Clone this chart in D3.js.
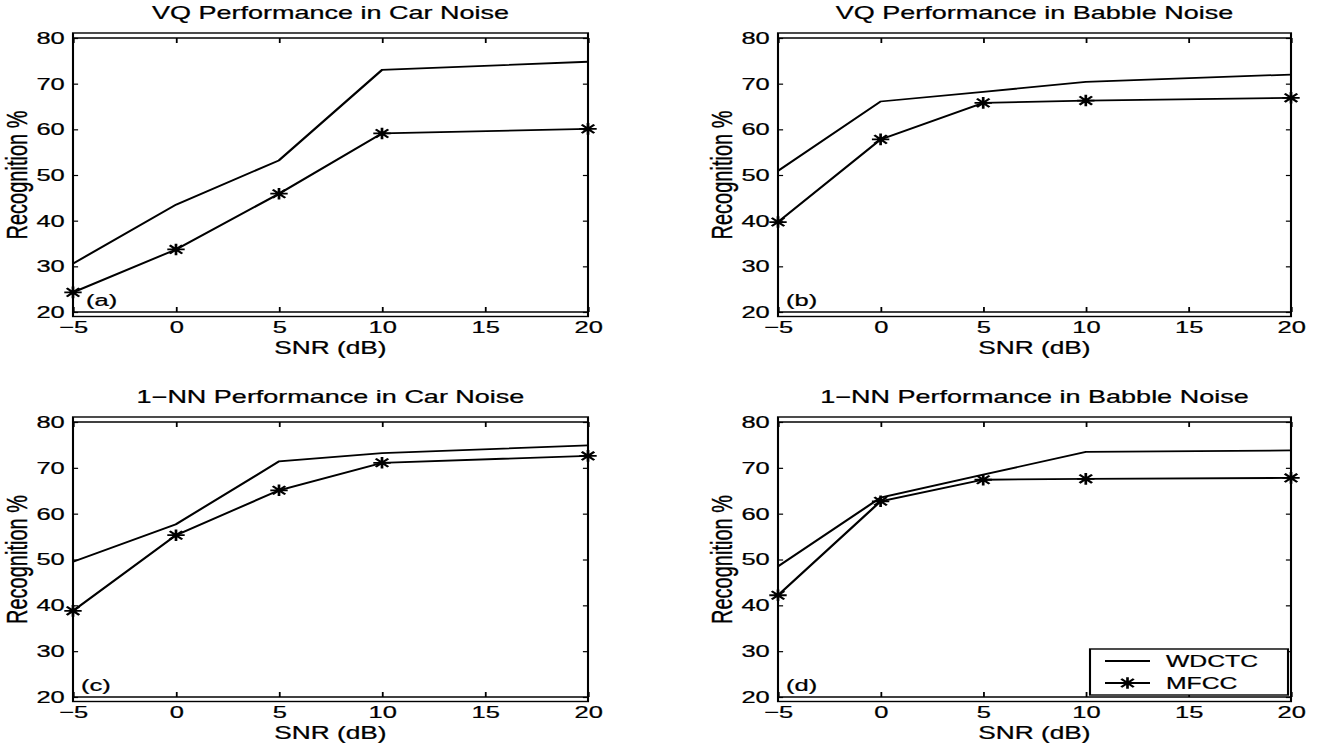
<html>
<head>
<meta charset="utf-8">
<title>VQ / 1-NN Performance</title>
<script src="https://d3js.org/d3.v7.min.js"></script>
<style>
  body { margin: 0; background: #fff; }
  text { font-family: "Liberation Sans", Arial, Helvetica, sans-serif; fill: #000; stroke: #000; stroke-width: 0.25px; }
  .frame { fill: none; stroke: #000; stroke-width: 1.4px; }
  .serie { fill: none; stroke: #000; stroke-width: 1.8px; }
  .star { fill: none; stroke: #000; stroke-width: 1.8px; }
  .tick line { stroke: #000; stroke-width: 1.2px; }
</style>
</head>
<body>
<script>
// data
var snr = [-5, 0, 5, 10, 20];
var xTicks = [-5, 0, 5, 10, 15, 20];
var yTicks = [20, 30, 40, 50, 60, 70, 80];

var vqCarWdctc    = [30.6, 43.5, 53.2, 73.0, 74.8];
var vqCarMfcc     = [24.3, 33.7, 45.9, 59.1, 60.1];
var vqBabbleWdctc = [50.9, 66.1, 68.2, 70.4, 72.0];
var vqBabbleMfcc  = [39.7, 57.8, 65.8, 66.3, 66.9];
var nnCarWdctc    = [49.5, 57.7, 71.4, 73.2, 74.9];
var nnCarMfcc     = [38.8, 55.3, 65.1, 71.1, 72.6];
var nnBabbleWdctc = [48.5, 63.5, 68.5, 73.5, 73.8];
var nnBabbleMfcc  = [42.2, 62.7, 67.4, 67.6, 67.8];

var titles = ["VQ Performance in Car Noise", "VQ Performance in Babble Noise",
              "1\u2212NN Performance in Car Noise", "1\u2212NN Performance in Babble Noise"];
var tags = ["(a)", "(b)", "(c)", "(d)"];
var seriesNames = ["WDCTC", "MFCC"];

// the original figure is stretched sideways, so everything is drawn in a
// narrower space and widened by SX
var SX = 1.5;
var colLeft = [73, 778], colRight = [588, 1291];
var rowTop = [38, 422], rowBottom = [312, 697];

var panels = [
  {wd: vqCarWdctc, mf: vqCarMfcc, col: 0, row: 0, tagDx: 13},
  {wd: vqBabbleWdctc, mf: vqBabbleMfcc, col: 1, row: 0, tagDx: 8},
  {wd: nnCarWdctc, mf: nnCarMfcc, col: 0, row: 1, tagDx: 8},
  {wd: nnBabbleWdctc, mf: nnBabbleMfcc, col: 1, row: 1, tagDx: 8, legend: true}
];

var svg = d3.select("body").append("svg").attr("width", 1320).attr("height", 744);
var root = svg.append("g").attr("transform", "scale(" + SX + ",1)");

function star(sel, r) {
  var d = r * 0.72;
  sel.append("path").attr("class", "star")
    .attr("d", "M" + (-r) + ",0H" + r + "M0," + (-r) + "V" + r +
               "M" + (-d) + "," + (-d) + "L" + d + "," + d +
               "M" + (-d) + "," + d + "L" + d + "," + (-d));
}

panels.forEach(function (p, i) {
  var x = d3.scaleLinear().domain([-5, 20]).range([colLeft[p.col] / SX, colRight[p.col] / SX]);
  var y = d3.scaleLinear().domain([20, 80]).range([rowBottom[p.row], rowTop[p.row]]);
  var g = root.append("g");
  var x0 = x(-5), x1 = x(20), y0 = y(20), y1 = y(80);

  // box, a little taller than the 20..80 range, plus lines at 20 and 80
  g.append("rect").attr("class", "frame")
    .attr("x", x0).attr("y", y1 - 5).attr("width", x1 - x0).attr("height", y0 - y1 + 9.5);
  g.append("line").attr("class", "frame").attr("x1", x0).attr("x2", x1).attr("y1", y1).attr("y2", y1);
  g.append("line").attr("class", "frame").attr("x1", x0).attr("x2", x1).attr("y1", y0).attr("y2", y0);

  var xb = g.append("g").attr("transform", "translate(0," + y0 + ")")
    .call(d3.axisBottom(x).tickValues(xTicks).tickSizeInner(-5).tickSizeOuter(0).tickPadding(9));
  var xt = g.append("g").attr("transform", "translate(0," + y1 + ")")
    .call(d3.axisTop(x).tickValues(xTicks).tickSizeInner(-5).tickSizeOuter(0).tickFormat(""));
  var yl = g.append("g").attr("transform", "translate(" + x0 + ",0)")
    .call(d3.axisLeft(y).tickValues(yTicks).tickSizeInner(-3.4).tickSizeOuter(0).tickPadding(5.5));
  var yr = g.append("g").attr("transform", "translate(" + x1 + ",0)")
    .call(d3.axisRight(y).tickValues(yTicks).tickSizeInner(-3.4).tickSizeOuter(0).tickFormat(""));
  [xb, xt, yl, yr].forEach(function (a) {
    a.select(".domain").remove();
    a.selectAll("text").attr("font-size", 17).attr("font-family", null).attr("fill", "#000");
  });

  g.append("text").attr("x", (x0 + x1) / 2).attr("y", y1 - 19)
    .attr("text-anchor", "middle").attr("font-size", 18).text(titles[i]);
  g.append("text").attr("x", (x0 + x1) / 2).attr("y", y0 + 42)
    .attr("text-anchor", "middle").attr("font-size", 17.5).text("SNR (dB)");
  g.append("text")
    .attr("transform", "translate(" + (x0 - 46 / SX) + "," + ((y0 + y1) / 2) + ") rotate(-90)")
    .attr("text-anchor", "middle").attr("font-size", 20).text("Recognition %");
  g.append("text").attr("x", x0 + p.tagDx / SX).attr("y", y0 - 6)
    .attr("font-size", 17).text(tags[i]);

  var line = d3.line().x(function (d) { return x(d[0]); }).y(function (d) { return y(d[1]); });
  g.append("path").attr("class", "serie").attr("d", line(d3.zip(snr, p.wd)));
  g.append("path").attr("class", "serie").attr("d", line(d3.zip(snr, p.mf)));
  g.selectAll(".mk").data(d3.zip(snr, p.mf)).enter().append("g")
    .attr("transform", function (d) { return "translate(" + x(d[0]) + "," + y(d[1]) + ")"; })
    .each(function () { star(d3.select(this), 5.8); });

  if (p.legend) {
    var lw = 198 / SX, lh = 46;
    var lx = x1 - 2 - lw, ly = y0 - 2 - lh;
    var lg = g.append("g").attr("transform", "translate(" + lx + "," + ly + ")");
    lg.append("rect").attr("width", lw).attr("height", lh).attr("fill", "#fff")
      .attr("stroke", "#000").attr("stroke-width", 1.4);
    seriesNames.forEach(function (name, k) {
      var ry = 12 + k * 22;
      lg.append("line").attr("class", "serie").attr("x1", 15 / SX).attr("x2", 60 / SX)
        .attr("y1", ry).attr("y2", ry);
      if (k === 1) {
        var s = lg.append("g").attr("transform", "translate(" + (37.5 / SX) + "," + ry + ")");
        star(s, 5.8);
      }
      lg.append("text").attr("x", 76 / SX).attr("y", ry).attr("dy", "0.36em")
        .attr("font-size", 16.5).text(name);
    });
  }
});
</script>
</body>
</html>
